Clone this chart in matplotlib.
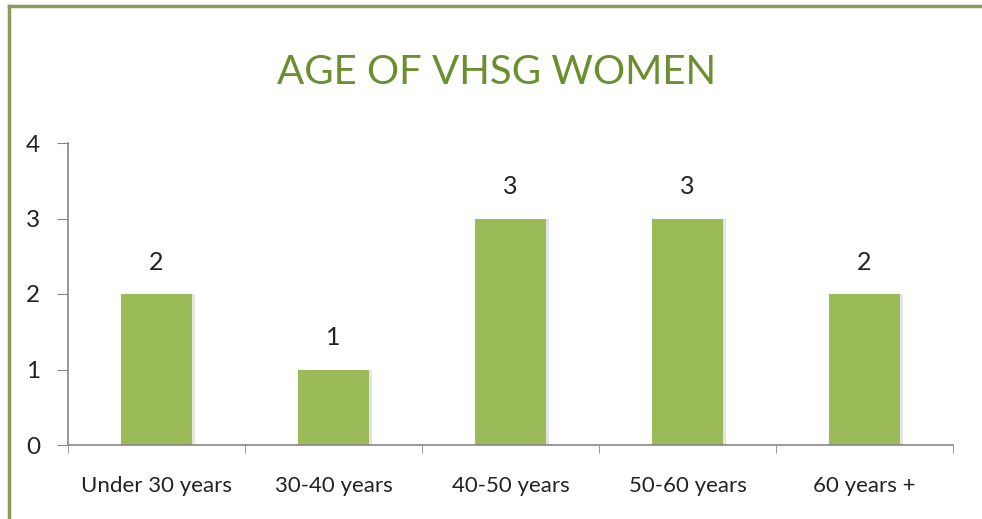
import matplotlib
matplotlib.use("Agg")
import matplotlib.pyplot as plt
from matplotlib.lines import Line2D
import numpy as np

# data
categories = ["Under 30 years", "30-40 years", "40-50 years", "50-60 years", "60 years +"]
counts = [2, 1, 3, 3, 2]

plt.rcParams['font.family'] = ['Lato', 'DejaVu Sans']

fig = plt.figure(figsize=(9.82, 5.19), dpi=100)
ax = fig.add_axes([68/982, (519-445)/519, (953-68)/982, (445-143)/519])

x = np.arange(len(categories))

# soft shadow then the bars
ax.bar(x + 0.015, counts, width=0.4, color="#e4e4e4", zorder=1)
ax.bar(x, counts, width=0.4, color="#9bbb59", zorder=2)

# value labels
for xi, c in zip(x, counts):
    ax.text(xi, c + 0.27, str(c), ha="center", va="bottom", fontsize=18, color="#222222")

ax.set_xlim(-0.5, len(categories) - 0.5)
ax.set_ylim(0, 4)
ax.set_yticks([0, 1, 2, 3, 4])
ax.set_xticks(x)
ax.set_xticklabels(categories, fontsize=16, color="#222222")
ax.set_xticks(np.arange(-0.5, len(categories)), minor=True)
ax.tick_params(axis="x", which="major", length=0, pad=22)
ax.tick_params(axis="x", which="minor", length=6, color="#868686", direction="out")
ax.tick_params(axis="y", length=8, color="#868686", labelsize=17.5, labelcolor="#222222", pad=12)

for s in ["top", "right"]:
    ax.spines[s].set_visible(False)
for s in ["left", "bottom"]:
    ax.spines[s].set_color("#868686")
    ax.spines[s].set_linewidth(1.2)

# title
fig.text(497/982, 1 - 73/519, "AGE OF VHSG WOMEN", ha="center", va="center",
         fontsize=29, color="#6b8f2e", family=["Lato", "DejaVu Sans"])

# frame lines on the left and top
fig.add_artist(Line2D([9/982, 9/982], [1 - 6/519, 1 - 517/519], color="#8a9a5b", lw=2.5))
fig.add_artist(Line2D([9/982, 1], [1 - 6/519, 1 - 6/519], color="#8a9a5b", lw=2.5))

fig.savefig("out.png", dpi=100)
